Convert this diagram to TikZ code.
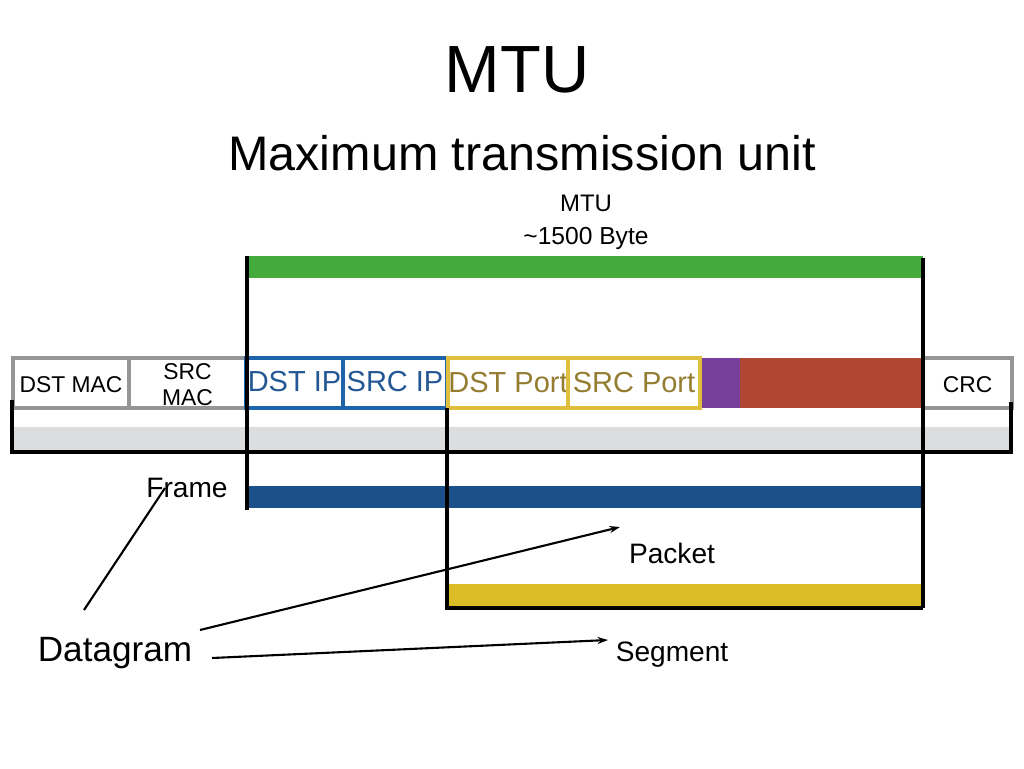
\documentclass[tikz,border=0pt]{standalone}
\usepackage{fontspec}
\setmainfont{Liberation Sans}
\usetikzlibrary{arrows.meta}
\definecolor{mtugreen}{RGB}{67,170,59}
\definecolor{framegray}{RGB}{150,150,150}
\definecolor{barggray}{RGB}{220,221,223}
\definecolor{ipblue}{RGB}{30,100,170}
\definecolor{iptext}{RGB}{35,88,148}
\definecolor{portyellow}{RGB}{222,192,62}
\definecolor{porttext}{RGB}{148,124,48}
\definecolor{protopurple}{RGB}{118,64,155}
\definecolor{datared}{RGB}{178,70,52}
\definecolor{frameblue}{RGB}{28,80,138}
\definecolor{segyellow}{RGB}{218,188,38}
\begin{document}
\begin{tikzpicture}[x=0.02cm,y=-0.02cm,
    mac/.style={draw=framegray,line width=2pt},
    ip/.style={draw=ipblue,line width=1.8pt},
    port/.style={draw=portyellow,line width=1.8pt},
    small/.style={font=\fontsize{13}{15}\selectfont},
    mid/.style={font=\fontsize{16.5}{18}\selectfont},
    label/.style={font=\fontsize{16}{18}\selectfont},
    edge/.style={line width=1.8pt}]
  \useasboundingbox (0,0) rectangle (1024,768);
  % titles
  \draw
    (517,70) node[font=\fontsize{38}{40}\selectfont] (title){MTU}
    (522,153) node[font=\fontsize{27.6}{30}\selectfont] (subtitle){Maximum transmission unit}
    (586,203) node[font=\fontsize{13.6}{15}\selectfont] (mtu){MTU}
    (586,238) node[font=\fontsize{14}{15}\selectfont] (bytes){\char`\~1500 Byte};
  % bars
  \fill[mtugreen] (248,256) rectangle (923,278);
  \fill[barggray] (13,427) rectangle (1010,451);
  \fill[frameblue] (248,486) rectangle (923,508);
  \fill[segyellow] (448,584) rectangle (923,606);
  \fill[protopurple] (700,358) rectangle (740,408);
  \fill[datared] (740,358) rectangle (922,408);
  % header fields
  \draw[mac] (13,358) rectangle (129,408) node[midway,small,yshift=-1pt] (dstmac){DST MAC};
  \draw[mac] (129,358) rectangle (246,408) node[midway,small,align=center,yshift=-1pt] (srcmac){SRC\\MAC};
  \draw[ip] (246,358) rectangle (343,408) node[midway,mid,text=iptext,yshift=1pt] (dstip){DST IP};
  \draw[ip] (343,358) rectangle (447,408) node[midway,mid,text=iptext,yshift=1pt] (srcip){SRC IP};
  \draw[port] (448,358) rectangle (568,408) node[midway,mid,text=porttext] (dstport){DST Port};
  \draw[port] (568,358) rectangle (700,408) node[midway,mid,text=porttext] (srcport){SRC Port};
  \draw[mac] (923,358) rectangle (1012,408) node[midway,small,yshift=-1pt] (crc){CRC};
  % brackets
  \begin{scope}[edge]
    \draw (247,256) -- (247,510);
    \draw (923,258) -- (923,608);
    \draw (447,408) -- (447,608) -- (923,608);
    \draw (12,400) -- (12,452) -- (1011,452) -- (1011,402);
  \end{scope}
  % layer names
  \draw
    (187,488) node[label] (frame){Frame}
    (672,553) node[label] (packet){Packet}
    (672,655) node[label] (segment){Segment}
    (115,653) node[font=\fontsize{20}{22}\selectfont] (dgram){Datagram};
  \begin{scope}[line width=1.2pt,-{Stealth[length=6pt,width=4pt]}]
    \draw[-] ([shift={(-31,-43)}]dgram.center) -- ([shift={(-22,0)}]frame.center);
    \draw ([shift={(85,-23)}]dgram.center) -- ([shift={(-52,-26)}]packet.center);
    \draw ([shift={(97,5)}]dgram.center) -- ([shift={(-64,-15)}]segment.center);
  \end{scope}
\end{tikzpicture}
\end{document}
